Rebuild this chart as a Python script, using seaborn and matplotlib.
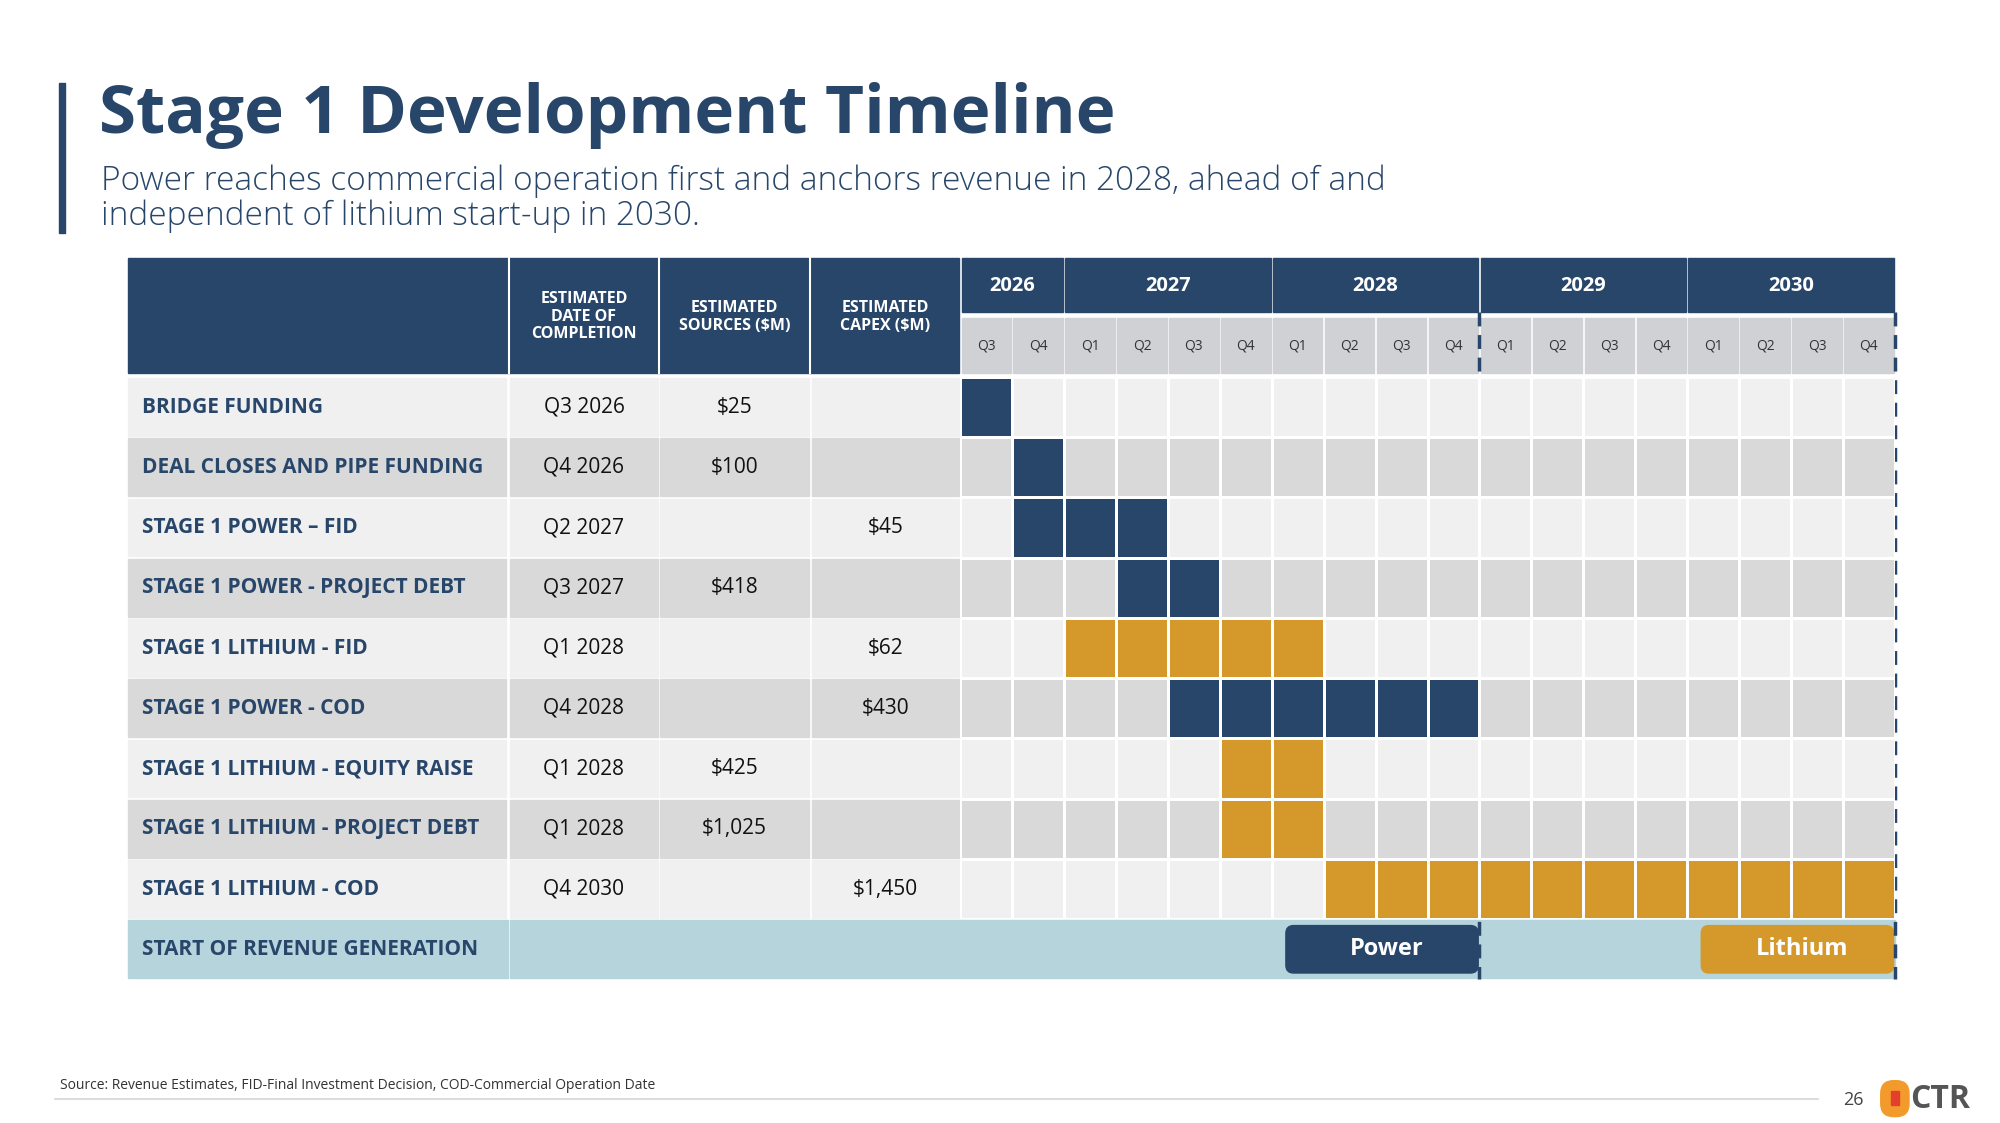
import numpy as np
import matplotlib
matplotlib.use("Agg")
import matplotlib.pyplot as plt
from matplotlib.colors import ListedColormap
from matplotlib.patches import Rectangle, FancyBboxPatch
import seaborn as sns

# data
tasks = ["BRIDGE FUNDING", "DEAL CLOSES AND PIPE FUNDING", "STAGE 1 POWER \u2013 FID",
         "STAGE 1 POWER - PROJECT DEBT", "STAGE 1 LITHIUM - FID", "STAGE 1 POWER - COD",
         "STAGE 1 LITHIUM - EQUITY RAISE", "STAGE 1 LITHIUM - PROJECT DEBT", "STAGE 1 LITHIUM - COD"]
completion = ["Q3 2026", "Q4 2026", "Q2 2027", "Q3 2027", "Q1 2028", "Q4 2028", "Q1 2028", "Q1 2028", "Q4 2030"]
sources = ["$25", "$100", "", "$418", "", "", "$425", "$1,025", ""]
capex = ["", "", "$45", "", "$62", "$430", "", "", "$1,450"]
track = ["power", "power", "power", "power", "lithium", "power", "lithium", "lithium", "lithium"]
start_q = [0, 1, 1, 3, 2, 4, 5, 5, 7]
end_q = [0, 1, 3, 4, 6, 9, 6, 6, 17]
years = ["2026", "2027", "2028", "2029", "2030"]
year_quarters = [["Q3", "Q4"], ["Q1", "Q2", "Q3", "Q4"], ["Q1", "Q2", "Q3", "Q4"],
                 ["Q1", "Q2", "Q3", "Q4"], ["Q1", "Q2", "Q3", "Q4"]]
quarters = [q for qs in year_quarters for q in qs]

NAVY = "#27466a"
GOLD = "#d5992b"
LIGHT = "#f0f0f0"
DARK = "#d9d9d9"
QHEAD = "#d0d1d4"
REV = "#b5d4dc"
FONT = ["Open Sans", "DejaVu Sans"]

plt.rcParams["font.family"] = FONT
W, H = 1560, 876
fig = plt.figure(figsize=(20, 11.23), dpi=100)
ax = fig.add_axes([0, 0, 1, 1])
ax.set_xlim(0, W)
ax.set_ylim(H, 0)
ax.axis("off")

# title block
ax.add_patch(Rectangle((46, 65), 5, 117, color=NAVY))
ax.text(77, 90, "Stage 1 Development Timeline", fontsize=48.5, fontweight="bold", color=NAVY, va="center")
ax.text(79, 155, "Power reaches commercial operation first and anchors revenue in 2028, ahead of and\nindependent of lithium start-up in 2030.",
        fontsize=24, color=NAVY, va="center", linespacing=1.08, fontweight=300)

# geometry
cols = [100, 397, 514, 632, 749]
gx0, gx1 = 749, 1478
qw = (gx1 - gx0) / len(quarters)
row_top, row_h = 294, 47
n = len(tasks)
FS = 15

# header
ax.add_patch(Rectangle((100, 201), 648, 90, color=NAVY))
for x in cols[1:4]:
    ax.plot([x, x], [201, 291], color="white", lw=1.5)
head_txt = ["ESTIMATED\nDATE OF\nCOMPLETION", "ESTIMATED\nSOURCES ($M)", "ESTIMATED\nCAPEX ($M)"]
for i, t in enumerate(head_txt):
    ax.text((cols[i + 1] + cols[i + 2]) / 2, 247, t, ha="center", va="center", color="white",
            fontsize=11.5, fontweight="bold", linespacing=1.15)
qi = 0
for y, qs in zip(years, year_quarters):
    x0 = gx0 + qi * qw
    ax.add_patch(Rectangle((x0 + 1, 201), len(qs) * qw - 2, 42, color=NAVY))
    ax.text(x0 + len(qs) * qw / 2, 223, y, ha="center", va="center", color="white", fontsize=14.5, fontweight="bold")
    qi += len(qs)
for i, q in enumerate(quarters):
    ax.add_patch(Rectangle((gx0 + i * qw + 1, 248), qw - 2, 43, color=QHEAD))
    ax.text(gx0 + (i + 0.5) * qw, 270, q, ha="center", va="center", color="#333333", fontsize=10)

# table rows
for r in range(n):
    y0 = row_top + r * row_h
    bg = LIGHT if r % 2 == 0 else DARK
    for c in range(4):
        ax.add_patch(Rectangle((cols[c] + (1 if c else 0), y0 + 1), cols[c + 1] - cols[c] - 2, row_h - 2, color=bg))
    yc = y0 + row_h / 2
    ax.text(111, yc, tasks[r], va="center", fontsize=FS, fontweight="bold", color=NAVY)
    ax.text((cols[1] + cols[2]) / 2, yc, completion[r], ha="center", va="center", fontsize=FS, color="#111111")
    ax.text((cols[2] + cols[3]) / 2, yc, sources[r], ha="center", va="center", fontsize=FS, color="#111111")
    ax.text((cols[3] + cols[4]) / 2, yc, capex[r], ha="center", va="center", fontsize=FS, color="#111111")

# gantt grid via seaborn heatmap
grid = np.zeros((n, len(quarters)))
for r in range(n):
    grid[r, :] = 0 if r % 2 == 0 else 1
    grid[r, start_q[r]:end_q[r] + 1] = 2 if track[r] == "power" else 3
hax = fig.add_axes([gx0 / W, 1 - (row_top + n * row_h) / H, (gx1 - gx0) / W, n * row_h / H])
sns.heatmap(grid, ax=hax, cmap=ListedColormap([LIGHT, DARK, NAVY, GOLD]), vmin=-0.5, vmax=3.5,
            cbar=False, linewidths=1.0, linecolor="white", xticklabels=False, yticklabels=False)
hax.axis("off")

# revenue row
ry = row_top + n * row_h
ax.add_patch(Rectangle((100, ry + 1), 296, row_h - 2, color=REV))
ax.add_patch(Rectangle((398, ry + 1), gx1 - 398, row_h - 2, color=REV))
ax.text(111, ry + row_h / 2, "START OF REVENUE GENERATION", va="center", fontsize=FS, fontweight="bold", color=NAVY)
for x0, x1, lab, col in [(1003, 1153, "Power", NAVY), (1327, 1477, "Lithium", GOLD)]:
    ax.add_patch(FancyBboxPatch((x0, ry + 5), x1 - x0, row_h - 10, boxstyle="round,pad=0,rounding_size=6", color=col))
    ax.text((x0 + x1) / 2 + 4, ry + row_h / 2, lab, ha="center", va="center", color="white", fontsize=17, fontweight="bold")

# dashed milestone lines
for x in [gx0 + 10 * qw, gx1]:
    ax.plot([x, x], [243, ry + row_h], color=NAVY, lw=2.5, ls=(0, (4, 2.5)), zorder=5)

# footer
ax.text(47, 847, "Source: Revenue Estimates, FID-Final Investment Decision, COD-Commercial Operation Date",
        fontsize=10, color="#333333", va="center")
ax.plot([43, 1418], [857, 857], color="#d5d5d5", lw=1.2)
ax.text(1446, 858, "26", fontsize=13, color="#444444", va="center", ha="center")
ax.add_patch(FancyBboxPatch((1467, 843), 22, 28, boxstyle="round,pad=0,rounding_size=10", color="#f39a2d"))
ax.add_patch(Rectangle((1475, 851), 6, 11, color="#e2402b"))
ax.text(1490, 858, "CTR", fontsize=23, fontweight="bold", color="#555555", va="center")

fig.savefig("out.png", dpi=100)
